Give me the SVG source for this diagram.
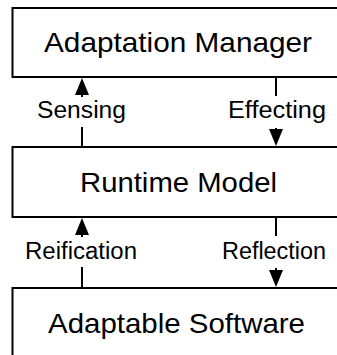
<svg xmlns="http://www.w3.org/2000/svg" width="337" height="355" viewBox="0 0 337 355">
<style>
.box{fill:#fff;stroke:#000;stroke-width:2}
.title{font-family:"Liberation Sans",Arial,sans-serif;font-size:28px;fill:#000;text-anchor:middle}
.lbl{font-family:"Liberation Sans",Arial,sans-serif;font-size:23px;fill:#000;text-anchor:middle}
.ln{stroke:#000;stroke-width:2;fill:none}
.head{fill:#000}
</style>
<rect width="337" height="355" fill="#fff"/>
<g id="adaptation-manager">
<rect class="box" x="12.5" y="8" width="340" height="69"/>
<text class="title" x="178" y="52" textLength="268" lengthAdjust="spacingAndGlyphs">Adaptation Manager</text>
</g>
<g id="runtime-model">
<rect class="box" x="12.5" y="147" width="340" height="70"/>
<text class="title" x="178.5" y="192" textLength="197" lengthAdjust="spacingAndGlyphs">Runtime Model</text>
</g>
<g id="adaptable-software">
<rect class="box" x="12.5" y="288" width="340" height="80"/>
<text class="title" x="176.5" y="333" textLength="257" lengthAdjust="spacingAndGlyphs">Adaptable Software</text>
</g>
<g id="connectors">
<g id="sensing">
<line class="ln" x1="82" y1="147" x2="82" y2="127"/>
<line class="ln" x1="82" y1="97" x2="82" y2="90"/>
<polygon class="head" points="82,78 75,95 89,95"/>
<text class="lbl" x="81.5" y="118" textLength="89" lengthAdjust="spacingAndGlyphs">Sensing</text>
</g>
<g id="effecting">
<line class="ln" x1="276" y1="77" x2="276" y2="96"/>
<line class="ln" x1="276" y1="128" x2="276" y2="134"/>
<polygon class="head" points="276,146 269,129 283,129"/>
<text class="lbl" x="277" y="118" textLength="98" lengthAdjust="spacingAndGlyphs">Effecting</text>
</g>
<g id="reification">
<line class="ln" x1="82" y1="288" x2="82" y2="267"/>
<line class="ln" x1="82" y1="237" x2="82" y2="230"/>
<polygon class="head" points="82,218 75,235 89,235"/>
<text class="lbl" x="81" y="259" textLength="112" lengthAdjust="spacingAndGlyphs">Reification</text>
</g>
<g id="reflection">
<line class="ln" x1="276" y1="217" x2="276" y2="236"/>
<line class="ln" x1="276" y1="268" x2="276" y2="274"/>
<polygon class="head" points="276,287 269,270 283,270"/>
<text class="lbl" x="274" y="259" textLength="104" lengthAdjust="spacingAndGlyphs">Reflection</text>
</g>
</g>
</svg>
